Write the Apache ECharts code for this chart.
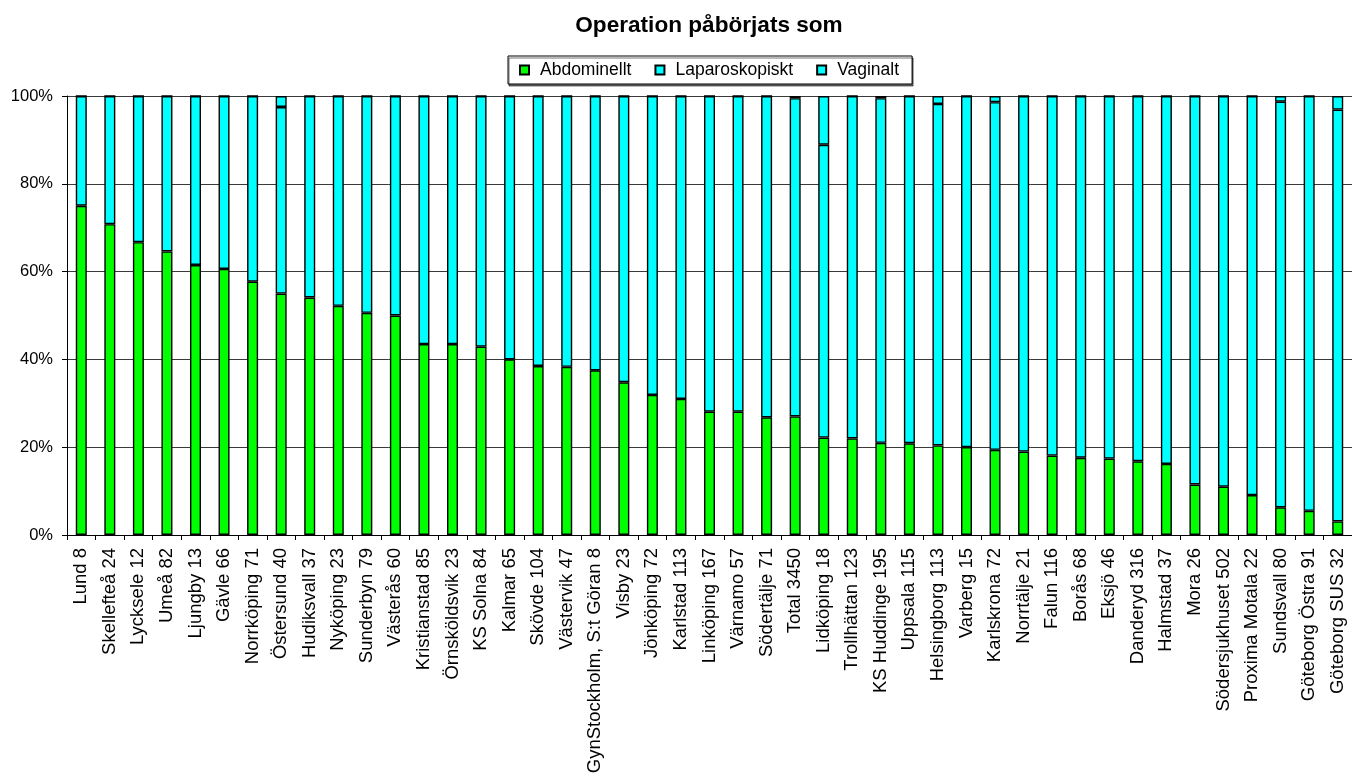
<!DOCTYPE html>
<html>
<head>
<meta charset="utf-8">
<title>Operation påbörjats som</title>
<script src="https://cdn.jsdelivr.net/npm/echarts@6/dist/echarts.min.js"></script>
<style>
  html, body { margin: 0; padding: 0; background: #fff; }
  #chart { width: 1352px; height: 778px; }
</style>
</head>
<body>
<div id="chart"></div>
<script>
// Clinics with number of operations, sorted by share of abdominal starts
const categories = [
  'Lund 8', 'Skellefteå 24', 'Lycksele 12', 'Umeå 82', 'Ljungby 13', 'Gävle 66',
  'Norrköping 71', 'Östersund 40', 'Hudiksvall 37', 'Nyköping 23', 'Sunderbyn 79',
  'Västerås 60', 'Kristianstad 85', 'Örnsköldsvik 23', 'KS Solna 84', 'Kalmar 65',
  'Skövde 104', 'Västervik 47', 'GynStockholm, S:t Göran 8', 'Visby 23', 'Jönköping 72',
  'Karlstad 113', 'Linköping 167', 'Värnamo 57', 'Södertälje 71', 'Total 3450',
  'Lidköping 18', 'Trollhättan 123', 'KS Huddinge 195', 'Uppsala 115', 'Helsingborg 113',
  'Varberg 15', 'Karlskrona 72', 'Norrtälje 21', 'Falun 116', 'Borås 68', 'Eksjö 46',
  'Danderyd 316', 'Halmstad 37', 'Mora 26', 'Södersjukhuset 502', 'Proxima Motala 22',
  'Sundsvall 80', 'Göteborg Östra 91', 'Göteborg SUS 32'
];

// Percent of operations per start type
const abdominellt = [
  75.0, 70.8, 66.7, 64.6, 61.5, 60.6, 57.7, 55.0, 54.1, 52.2, 50.6,
  50.0, 43.5, 43.5, 42.9, 40.0, 38.5, 38.3, 37.5, 34.8, 31.9,
  31.0, 28.1, 28.1, 26.8, 27.0, 22.2, 22.0, 21.0, 20.9, 20.4,
  20.0, 19.4, 19.0, 18.1, 17.6, 17.4, 16.8, 16.2, 11.5, 11.0, 9.1,
  6.3, 5.5, 3.1
];
const laparoskopiskt = [
  25.0, 29.2, 33.3, 35.4, 38.5, 39.4, 42.3, 42.5, 45.9, 47.8, 49.4,
  50.0, 56.5, 56.5, 57.1, 60.0, 61.5, 61.7, 62.5, 65.2, 68.1,
  69.0, 71.9, 71.9, 73.2, 72.5, 66.7, 78.0, 78.5, 79.1, 77.8,
  80.0, 79.2, 81.0, 81.9, 82.4, 82.6, 83.2, 83.8, 88.5, 89.0, 90.9,
  92.4, 94.5, 93.8
];
const vaginalt = [
  0, 0, 0, 0, 0, 0, 0, 2.5, 0, 0, 0,
  0, 0, 0, 0, 0, 0, 0, 0, 0, 0,
  0, 0, 0, 0, 0.5, 11.1, 0, 0.5, 0, 1.8,
  0, 1.4, 0, 0, 0, 0, 0, 0, 0, 0, 0,
  1.3, 0, 3.1
];
const yTicks = [0, 20, 40, 60, 80, 100];

const FONT = "'Liberation Sans', Arial, sans-serif";

const barStyle = (color) => ({ color: color, borderColor: '#000', borderWidth: 1.4 });

const chart = echarts.init(document.getElementById('chart'), null, { renderer: 'canvas' });
chart.setOption({
  animation: false,
  backgroundColor: '#fff',
  title: {
    text: 'Operation påbörjats som',
    left: 709,
    top: 14,
    textAlign: 'center',
    padding: 0,
    textStyle: { fontFamily: FONT, fontWeight: 'bold', fontSize: 22.6, color: '#000' }
  },
  legend: {
    left: 508,
    top: 56,
    padding: [5, 13, 5, 11],
    itemWidth: 9,
    itemHeight: 9,
    itemGap: 23,
    icon: 'rect',
    borderColor: '#000',
    borderWidth: 1,
    backgroundColor: '#fff',
    shadowColor: 'rgba(0,0,0,0.55)',
    shadowOffsetX: 1,
    shadowOffsetY: 2,
    shadowBlur: 0,
    textStyle: { fontFamily: FONT, fontSize: 17.5, color: '#000', padding: [0, 0, 0, 6] },
    data: ['Abdominellt', 'Laparoskopiskt', 'Vaginalt']
  },
  grid: { left: 67, right: 0, top: 96, bottom: 243, containLabel: false },
  xAxis: {
    type: 'category',
    data: categories,
    boundaryGap: true,
    axisLine: { lineStyle: { color: '#000', width: 1 } },
    axisTick: { show: true, length: 5, alignWithLabel: false, lineStyle: { color: '#000' } },
    axisLabel: {
      interval: 0,
      rotate: 90,
      margin: 13,
      fontFamily: FONT,
      fontSize: 18.5,
      color: '#000'
    },
    splitLine: { show: false }
  },
  yAxis: {
    type: 'value',
    min: yTicks[0],
    max: yTicks[yTicks.length - 1],
    interval: 20,
    axisLine: { show: true, lineStyle: { color: '#000', width: 1 } },
    axisTick: { show: true, length: 5, lineStyle: { color: '#000' } },
    axisLabel: {
      margin: 14,
      fontFamily: FONT,
      fontSize: 16.5,
      color: '#000',
      formatter: '{value}%'
    },
    splitLine: { show: true, lineStyle: { color: '#3a3a3a', width: 1 } }
  },
  series: [
    {
      name: 'Abdominellt', type: 'bar', stack: 'total', barWidth: 11,
      itemStyle: barStyle('#00ff00'), data: abdominellt
    },
    {
      name: 'Laparoskopiskt', type: 'bar', stack: 'total', barWidth: 11,
      itemStyle: barStyle('#00ffff'), data: laparoskopiskt
    },
    {
      name: 'Vaginalt', type: 'bar', stack: 'total', barWidth: 11,
      itemStyle: barStyle('#00ffff'), data: vaginalt
    }
  ]
});
</script>
</body>
</html>
